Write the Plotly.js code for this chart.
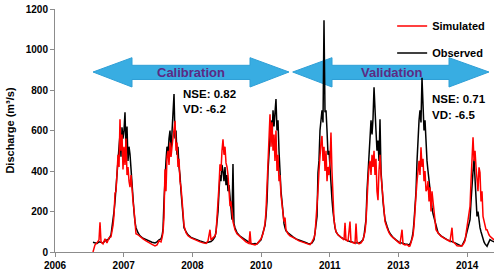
<!DOCTYPE html>
<html>
<head>
<meta charset="utf-8">
<script src="https://cdn.plot.ly/plotly-3.0.1.min.js"></script>
<style>html,body{margin:0;padding:0;background:#fff;}#chart{width:500px;height:276px;}</style>
</head>
<body>
<div id="chart"></div>
<script>
// Time in decimal years
const time = [
2006.919,2006.959,2006.999,2007.039,2007.059,2007.079,2007.119,2007.159,2007.198,2007.238,
2007.278,2007.298,2007.318,2007.338,2007.358,2007.378,2007.398,2007.418,2007.438,2007.457,
2007.477,2007.497,2007.517,2007.537,2007.557,2007.577,2007.597,2007.617,2007.637,2007.657,
2007.677,2007.697,2007.717,2007.736,2007.756,2007.776,2007.816,2007.856,2007.916,2007.976,
2008.035,2008.095,2008.155,2008.195,2008.235,2008.275,2008.295,2008.314,2008.334,2008.354,
2008.374,2008.394,2008.414,2008.434,2008.454,2008.474,2008.494,2008.514,2008.534,2008.554,
2008.574,2008.593,2008.613,2008.633,2008.653,2008.673,2008.693,2008.713,2008.733,2008.773,
2008.813,2008.872,2008.932,2008.992,2009.052,2009.112,2009.171,2009.211,2009.251,2009.271,
2009.311,2009.351,2009.371,2009.391,2009.411,2009.431,2009.450,2009.470,2009.490,2009.510,
2009.530,2009.550,2009.570,2009.590,2009.610,2009.630,2009.650,2009.669,2009.689,2009.709,
2009.729,2009.749,2009.789,2009.849,2009.909,2009.968,2010.028,2010.048,2010.068,2010.108,
2010.148,2010.188,2010.228,2010.268,2010.307,2010.347,2010.367,2010.387,2010.407,2010.427,
2010.447,2010.467,2010.487,2010.507,2010.527,2010.546,2010.566,2010.586,2010.606,2010.626,
2010.646,2010.666,2010.686,2010.706,2010.726,2010.746,2010.765,2010.805,2010.845,2010.905,
2010.965,2011.025,2011.084,2011.144,2011.204,2011.244,2011.284,2011.324,2011.344,2011.364,
2011.384,2011.403,2011.423,2011.443,2011.463,2011.483,2011.503,2011.523,2011.543,2011.563,
2011.583,2011.603,2011.623,2011.643,2011.662,2011.682,2011.702,2011.722,2011.742,2011.762,
2011.802,2011.862,2011.922,2011.942,2011.961,2012.001,2012.041,2012.061,2012.101,2012.141,
2012.161,2012.181,2012.221,2012.261,2012.300,2012.320,2012.340,2012.360,2012.380,2012.400,
2012.420,2012.440,2012.460,2012.480,2012.500,2012.520,2012.539,2012.559,2012.579,2012.599,
2012.619,2012.639,2012.659,2012.679,2012.699,2012.719,2012.739,2012.779,2012.818,2012.858,
2012.898,2012.958,2013.018,2013.038,2013.078,2013.098,2013.138,2013.177,2013.217,2013.237,
2013.257,2013.277,2013.297,2013.317,2013.337,2013.357,2013.377,2013.397,2013.417,2013.436,
2013.456,2013.476,2013.496,2013.516,2013.536,2013.556,2013.576,2013.596,2013.616,2013.636,
2013.656,2013.675,2013.695,2013.715,2013.735,2013.755,2013.795,2013.855,2013.915,2013.974,
2014.034,2014.074,2014.094,2014.134,2014.174,2014.214,2014.254,2014.274,2014.314,2014.333,
2014.353,2014.373,2014.393,2014.413,2014.433,2014.453,2014.473,2014.493,2014.513,2014.533,
2014.553,2014.572,2014.592,2014.612,2014.632,2014.652,2014.672,2014.692,2014.712,2014.732,
2014.752,2014.772,2014.792,2014.811,2014.831,2014.871,2014.911
];
const observed = [
48,45,42,50,48,50,45,55,60,65,
85,120,140,200,250,330,380,450,520,580,
470,616,560,600,690,500,620,450,520,482,
400,300,260,200,150,120,95,80,68,60,
52,48,45,50,60,65,80,110,250,400,
450,520,480,560,600,500,580,650,780,560,
600,480,520,420,380,300,226,150,120,100,
85,72,65,58,55,50,45,48,50,52,
60,75,100,140,200,300,380,350,430,400,
350,420,330,380,300,330,260,200,160,435,
140,120,95,78,68,55,45,44,42,40,
42,40,50,60,95,130,176,250,400,500,
600,650,560,700,620,680,755,600,650,500,
343,300,250,176,140,120,105,95,85,75,
65,58,52,48,42,40,45,60,95,130,
176,392,450,600,650,700,640,1145,690,700,
600,480,500,400,350,260,200,150,120,100,
85,72,63,60,58,55,52,50,48,46,
45,45,45,50,60,80,110,160,300,392,
500,600,650,580,660,813,650,600,500,550,
450,655,400,310,250,200,160,127,100,85,
72,60,48,45,44,42,40,38,35,40,
50,70,95,150,210,300,450,600,650,700,
640,860,690,600,650,500,450,400,350,300,
260,220,190,170,150,120,95,80,70,61,
55,52,50,45,40,35,30,32,50,61,
80,100,130,150,160,250,350,400,457,380,
300,176,200,150,120,100,80,61,50,40,
30,28,40,55,61,55,50
];
const simulated = [
0,35,45,60,147,50,40,65,45,70,
75,100,130,180,290,300,400,480,420,656,
500,580,408,520,430,560,380,420,350,320,
380,300,250,210,120,90,85,75,65,55,
45,38,30,35,55,50,70,95,170,408,
300,470,500,430,540,470,520,560,600,648,
500,540,420,460,350,320,260,200,130,95,
80,70,62,55,50,45,42,55,110,60,
70,80,95,160,230,330,433,400,500,557,
480,520,440,420,380,300,226,250,180,150,
130,110,90,75,65,50,42,102,40,38,
35,40,55,65,90,140,200,310,450,600,
680,520,640,500,580,450,600,400,480,350,
380,280,230,180,150,170,110,90,80,72,
62,55,50,45,38,36,50,70,90,150,
200,300,400,480,540,573,450,520,400,500,
350,420,380,450,590,400,226,160,125,100,
85,70,60,144,60,52,150,50,45,42,
140,50,40,45,60,75,100,150,280,350,
420,450,380,480,420,500,380,460,300,256,
400,480,380,310,240,190,150,120,95,80,
70,58,45,42,110,40,35,37,28,30,
45,60,80,130,230,280,350,400,450,380,
517,420,460,350,400,300,310,350,250,320,
200,300,256,180,160,110,95,78,68,58,
52,120,50,42,31,30,28,30,45,55,
90,120,160,200,226,350,500,567,450,500,
420,360,300,418,392,250,300,176,150,120,
110,110,95,85,78,70,60
];
const tickPositions = [2006.162, 2007.531, 2008.900, 2010.269, 2011.638, 2013.007, 2014.376];
const tickLabels = ['2006', '2007', '2008', '2010', '2011', '2013', '2014'];
const yTicks = [0, 200, 400, 600, 800, 1000, 1200];

const px = (p) => (p - 55) / 439;
const py = (p) => (252 - p) / 243;
function arrowPath(x0, x1, x2, x3) {
  const pts = [[x0,72],[x1,57.7],[x1,65.3],[x2,65.3],[x2,57.7],[x3,72],[x2,87],[x2,79.5],[x1,79.5],[x1,87]];
  return 'M' + pts.map(p => px(p[0]).toFixed(4) + ',' + py(p[1]).toFixed(4)).join(' L') + ' Z';
}

const bold = {family: 'Arial, Liberation Sans, sans-serif', weight: 'bold', color: '#000'};

const traces = [
  {x: time, y: observed, type: 'scatter', mode: 'lines', name: 'Observed', legendgroup: 'o', legendrank: 2,
   line: {color: '#000000', width: 1.5}},
  {x: time, y: simulated, type: 'scatter', mode: 'lines', name: 'Simulated', legendgroup: 's', legendrank: 1,
   line: {color: '#ff0000', width: 1.5}}
];

const layout = {
  width: 500, height: 276,
  margin: {l: 55, r: 6, t: 9, b: 24},
  paper_bgcolor: '#fff', plot_bgcolor: '#fff',
  showlegend: true,
  legend: {x: 0.768, y: 0.99, xanchor: 'left', yanchor: 'top', traceorder: 'grouped',
    tracegroupgap: 8, bgcolor: 'rgba(0,0,0,0)', font: Object.assign({}, bold, {size: 11})},
  xaxis: {range: [2006.162, 2014.911], tickmode: 'array', tickvals: tickPositions, ticktext: tickLabels,
    showgrid: false, zeroline: false, showline: true, linecolor: '#8c8c8c', linewidth: 1,
    ticks: 'outside', ticklen: 4, tickcolor: '#8c8c8c', tickfont: Object.assign({}, bold, {size: 10})},
  yaxis: {range: [0, 1200], tickmode: 'array', tickvals: yTicks,
    showgrid: false, zeroline: false, showline: true, linecolor: '#8c8c8c', linewidth: 1,
    ticks: 'outside', ticklen: 4, tickcolor: '#8c8c8c', tickfont: Object.assign({}, bold, {size: 10}),
    title: {text: 'Discharge (m³/s)', font: Object.assign({}, bold, {size: 11}), standoff: 8}},
  shapes: [
    {type: 'path', xref: 'paper', yref: 'paper', layer: 'below', path: arrowPath(93, 132, 250, 289),
     fillcolor: '#38ade2', line: {color: '#2f9fd6', width: 1}},
    {type: 'path', xref: 'paper', yref: 'paper', layer: 'below', path: arrowPath(292.7, 332, 449, 489),
     fillcolor: '#38ade2', line: {color: '#2f9fd6', width: 1}}
  ],
  annotations: [
    {text: 'Calibration', xref: 'paper', yref: 'paper', x: px(191), y: py(72), showarrow: false,
     xanchor: 'center', yanchor: 'middle', font: Object.assign({}, bold, {size: 13, color: '#5c2a84'})},
    {text: 'Validation', xref: 'paper', yref: 'paper', x: px(391), y: py(72), showarrow: false,
     xanchor: 'center', yanchor: 'middle', font: Object.assign({}, bold, {size: 13, color: '#5c2a84'})},
    {text: 'NSE: 0.82', xref: 'paper', yref: 'paper', x: px(181), y: py(94), showarrow: false,
     xanchor: 'left', yanchor: 'middle', font: Object.assign({}, bold, {size: 11.5})},
    {text: 'VD: -6.2', xref: 'paper', yref: 'paper', x: px(181), y: py(109.5), showarrow: false,
     xanchor: 'left', yanchor: 'middle', font: Object.assign({}, bold, {size: 11.5})},
    {text: 'NSE: 0.71', xref: 'paper', yref: 'paper', x: px(430), y: py(98.5), showarrow: false,
     xanchor: 'left', yanchor: 'middle', font: Object.assign({}, bold, {size: 11.5})},
    {text: 'VD: -6.5', xref: 'paper', yref: 'paper', x: px(430), y: py(115), showarrow: false,
     xanchor: 'left', yanchor: 'middle', font: Object.assign({}, bold, {size: 11.5})}
  ]
};

Plotly.newPlot('chart', traces, layout, {displayModeBar: false, staticPlot: true});
</script>
</body>
</html>
